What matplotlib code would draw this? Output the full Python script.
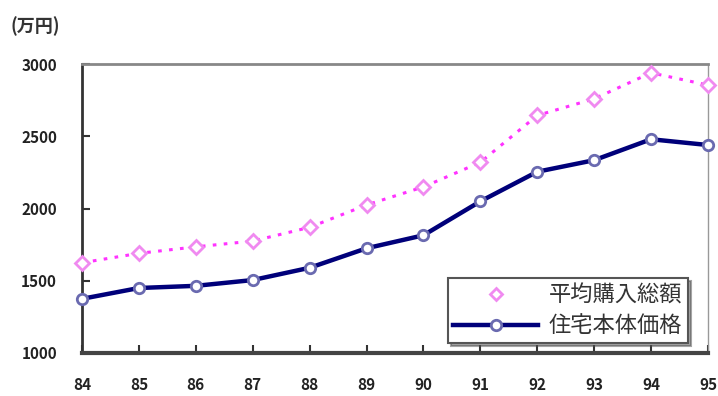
import matplotlib.pyplot as plt
from matplotlib.lines import Line2D

plt.rcParams['font.family'] = ['Noto Sans CJK JP', 'DejaVu Sans']

# 住宅購入価格の推移 (万円)
years = [84, 85, 86, 87, 88, 89, 90, 91, 92, 93, 94, 95]
year_labels = ['84', '85', '86', '87', '88', '89', '90', '91', '92', '93', '94', '95']
total_price = [1625, 1690, 1735, 1775, 1870, 2025, 2150, 2320, 2645, 2760, 2940, 2855]
house_price = [1375, 1450, 1465, 1505, 1590, 1725, 1815, 2050, 2255, 2335, 2480, 2440]

fig = plt.figure(figsize=(7.18, 3.96), dpi=100)
ax = fig.add_axes([0.1142, 0.1086, 0.8718, 0.7294])

pink = '#ff33ff'
navy = '#00007a'

ax.plot(years, total_price, color=pink, lw=2.2, ls=(0, (1.2, 2.4)),
        marker='D', ms=7, mfc='white', mec='#f08af0', mew=2, clip_on=False, zorder=3)
ax.plot(years, house_price, color=navy, lw=3.2,
        marker='o', ms=7.5, mfc='white', mec='#6a6ab0', mew=2, clip_on=False, zorder=4)

ax.set_xlim(84, 95)
ax.set_ylim(1000, 3000)
ax.set_xticks(years)
ax.set_xticklabels(year_labels)
ax.set_yticks([1000, 1500, 2000, 2500, 3000])

ax.tick_params(axis='both', direction='in', length=6, width=1.5, color='#333333',
               labelsize=11, labelcolor='#222222')
ax.tick_params(axis='y', pad=18)
ax.tick_params(axis='x', pad=17)
for lab in ax.get_xticklabels() + ax.get_yticklabels():
    lab.set_fontweight('bold')

ax.spines['left'].set_color('#333333')
ax.spines['left'].set_linewidth(2)
ax.spines['bottom'].set_color('#444444')
ax.spines['bottom'].set_linewidth(3)
ax.spines['top'].set_color('#888888')
ax.spines['top'].set_linewidth(2)
ax.spines['right'].set_color('#999999')
ax.spines['right'].set_linewidth(1)

fig.text(0.015, 0.935, '(万円)', fontsize=13, fontweight='bold', color='#333333',
         ha='left', va='center')

handles = [
    Line2D([], [], ls='none', marker='D', ms=6, mfc='white', mec='#f08af0', mew=2),
    Line2D([], [], color=navy, lw=3.2, marker='o', ms=7.5, mfc='white', mec='#6a6ab0', mew=2),
]
leg = ax.legend(handles, ['平均購入総額', '住宅本体価格'], loc='lower right',
                bbox_to_anchor=(0.968, 0.035), borderaxespad=0, fontsize=16,
                handlelength=3.8, handletextpad=0.5, labelspacing=0.35,
                borderpad=0.25, fancybox=False, shadow=True, framealpha=1)
leg.get_frame().set_edgecolor('#555555')
leg.get_frame().set_linewidth(1.5)
for t in leg.get_texts():
    t.set_color('#333333')

fig.savefig('out.png', dpi=100)
